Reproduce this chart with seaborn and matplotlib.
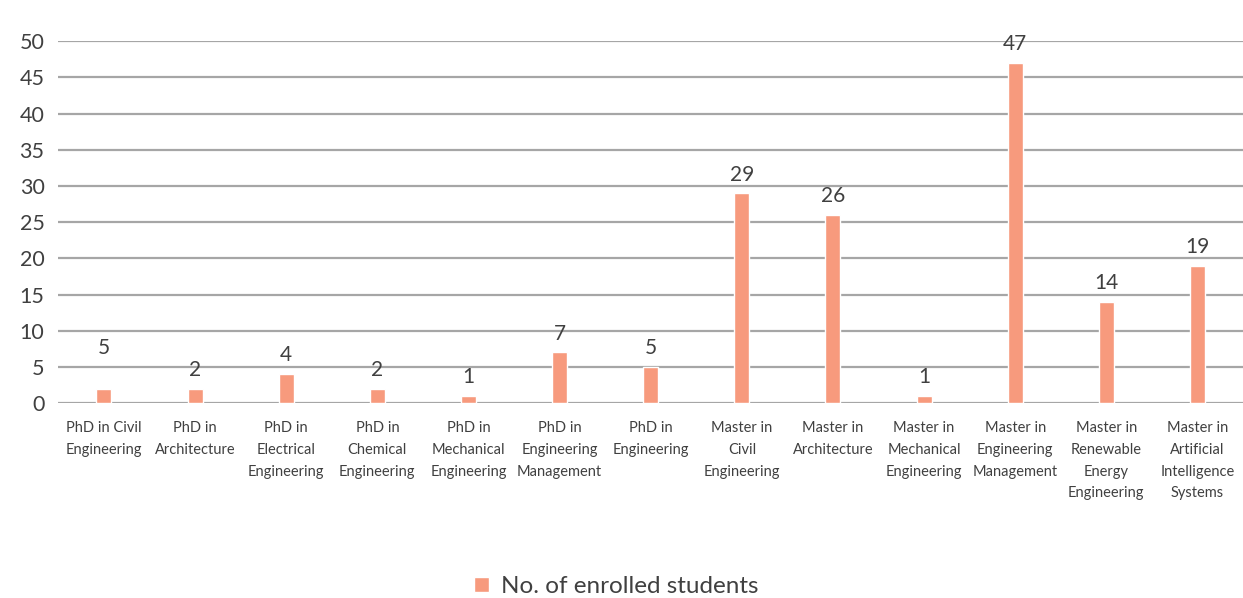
import matplotlib
matplotlib.use('Agg')
import matplotlib.pyplot as plt
import seaborn as sns
import pandas as pd

programs = [
    'PhD in Civil\nEngineering', 'PhD in\nArchitecture', 'PhD in\nElectrical\nEngineering',
    'PhD in\nChemical\nEngineering', 'PhD in\nMechanical\nEngineering',
    'PhD in\nEngineering\nManagement', 'PhD in\nEngineering', 'Master in\nCivil\nEngineering',
    'Master in\nArchitecture', 'Master in\nMechanical\nEngineering',
    'Master in\nEngineering\nManagement', 'Master in\nRenewable\nEnergy\nEngineering',
    'Master in\nArtificial\nIntelligence\nSystems',
]
bar_values = [2, 2, 4, 2, 1, 7, 5, 29, 26, 1, 47, 14, 19]
label_values = [5, 2, 4, 2, 1, 7, 5, 29, 26, 1, 47, 14, 19]
y_ticks = [0, 5, 10, 15, 20, 25, 30, 35, 40, 45, 50]

BAR = '#F79A7D'
GRID = '#A6A6A6'
TEXT = '#404040'

df = pd.DataFrame({'program': programs, 'students': bar_values})

sns.set_theme(style='white')
plt.rcParams['font.family'] = ['Lato', 'DejaVu Sans']

fig = plt.figure(figsize=(12.43, 5.98), dpi=100)
ax = fig.add_axes([0.047, 0.326, 0.953, 0.605])

sns.barplot(data=df, x='program', y='students', color=BAR, width=0.165,
            saturation=1, ax=ax, label='No. of enrolled students')

# data labels (first label differs from its bar in the source)
for patch, val in zip(ax.patches, label_values):
    ax.text(patch.get_x() + patch.get_width() / 2, val + 1.2, str(val),
            ha='center', va='bottom', fontsize=15, color=TEXT, clip_on=False)

ax.set_ylim(0, 50)
ax.set_yticks(y_ticks)
ax.set_xlim(-0.5, len(programs) - 0.5)
ax.yaxis.grid(True, color=GRID, linewidth=1.6)
ax.set_axisbelow(True)
for spine in ax.spines.values():
    spine.set_visible(False)
ax.tick_params(axis='y', labelsize=15.5, labelcolor=TEXT, length=0, pad=10)
ax.tick_params(axis='x', labelsize=10.5, labelcolor=TEXT, length=0, pad=13)
for lbl in ax.get_xticklabels():
    lbl.set_verticalalignment('top')
    lbl.set_linespacing(1.7)
ax.set_xlabel('')
ax.set_ylabel('')

ax.legend(loc='lower center', bbox_to_anchor=(0.496, -0.035), bbox_transform=fig.transFigure,
          frameon=False, fontsize=17.5, handlelength=0.6, handleheight=0.6,
          handletextpad=0.5, labelcolor=TEXT)

fig.savefig('out.png', dpi=100, facecolor='white')
